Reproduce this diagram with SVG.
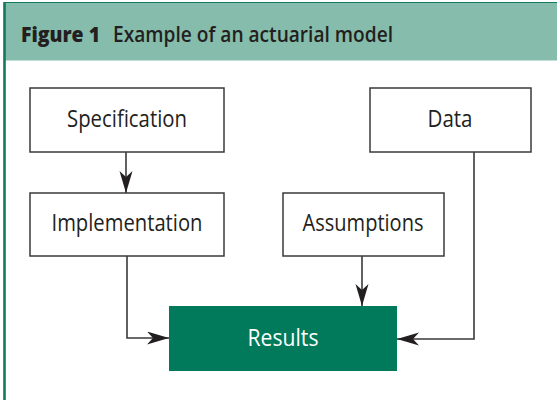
<svg xmlns="http://www.w3.org/2000/svg" width="557" height="400" viewBox="0 0 557 400">
  <style>
    .box { fill: #ffffff; stroke: #3a3a3a; stroke-width: 1.5; }
    .lbl { font-family: "Open Sans", "Noto Sans", sans-serif; font-size: 23px; fill: #231f20; text-anchor: middle; }
    .conn { fill: none; stroke: #3a3a3a; stroke-width: 1.6; }
    .title { font-family: "Open Sans", "Noto Sans", sans-serif; font-size: 21px; fill: #231f20; }
  </style>
  <defs>
    <marker id="arrow" markerWidth="24" markerHeight="14" refX="22" refY="6.5" orient="auto" markerUnits="userSpaceOnUse">
      <path d="M0,0 L22,6.5 L0,13 L6,6.5 Z" fill="#231f20"/>
    </marker>
  </defs>

  <!-- panel frame and header band -->
  <rect x="0" y="0" width="557" height="400" fill="#ffffff"/>
  <rect x="4.5" y="2.5" width="560" height="58" fill="#86bcab"/>
  <line x1="4.5" y1="2.5" x2="557" y2="2.5" stroke="#0f7a5d" stroke-width="1.2"/>
  <line x1="4.5" y1="2" x2="4.5" y2="400" stroke="#0f7a5d" stroke-width="2.6"/>
  <text class="title" x="21" y="42" font-weight="800" textLength="79" lengthAdjust="spacingAndGlyphs">Figure 1</text>
  <text class="title" x="113" y="42" font-weight="600" textLength="280" lengthAdjust="spacingAndGlyphs">Example of an actuarial model</text>

  <!-- connectors -->
  <g id="connectors">
    <line class="conn" x1="126" y1="152" x2="126" y2="193" marker-end="url(#arrow)"/>
    <polyline class="conn" points="127,256 127,338 169,338" marker-end="url(#arrow)"/>
    <line class="conn" x1="362" y1="256" x2="362" y2="306" marker-end="url(#arrow)"/>
    <polyline class="conn" points="474,152 474,339 397,339" marker-end="url(#arrow)"/>
  </g>

  <g id="specification">
    <rect class="box" x="30" y="88" width="194" height="64"/>
    <text class="lbl" x="127" y="127" textLength="120" lengthAdjust="spacingAndGlyphs">Specification</text>
  </g>
  <g id="implementation">
    <rect class="box" x="30" y="193" width="194" height="63"/>
    <text class="lbl" x="127" y="231" textLength="151" lengthAdjust="spacingAndGlyphs">Implementation</text>
  </g>
  <g id="data">
    <rect class="box" x="370" y="88" width="161" height="64"/>
    <text class="lbl" x="450" y="127" textLength="45" lengthAdjust="spacingAndGlyphs">Data</text>
  </g>
  <g id="assumptions">
    <rect class="box" x="283" y="193" width="161" height="63"/>
    <text class="lbl" x="363" y="231" textLength="121" lengthAdjust="spacingAndGlyphs">Assumptions</text>
  </g>
  <g id="results">
    <rect x="169" y="306" width="228" height="65" fill="#007a5a"/>
    <text class="lbl" x="283" y="346" style="fill:#ffffff" textLength="71" lengthAdjust="spacingAndGlyphs">Results</text>
  </g>
</svg>
